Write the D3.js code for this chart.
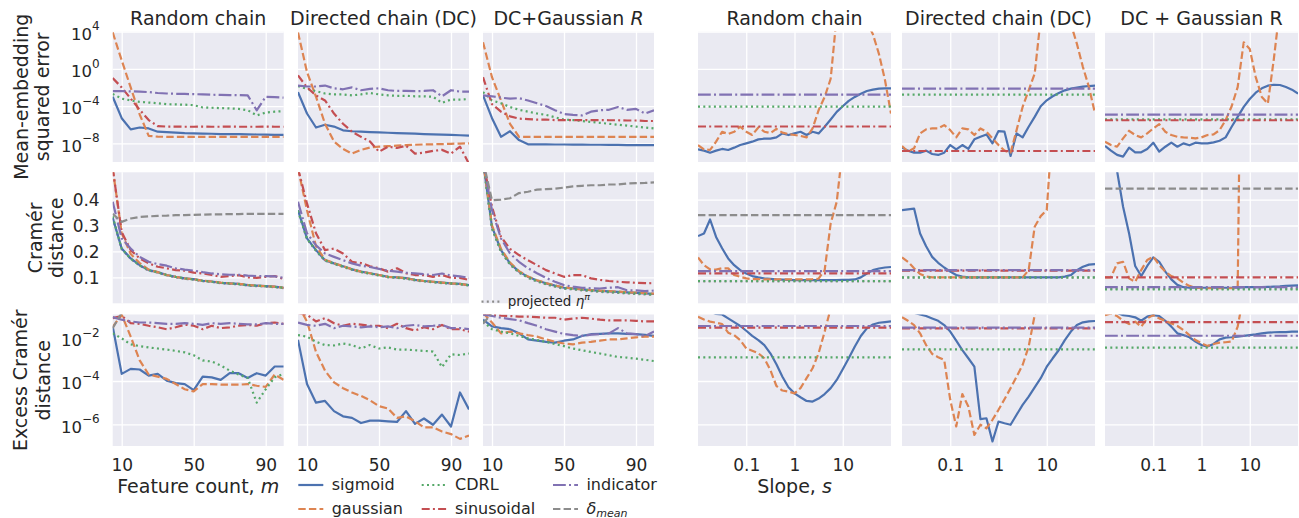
<!DOCTYPE html>
<meta charset="utf-8">
<script src="https://d3js.org/d3.v7.min.js"></script>
<style>
  body { margin: 0; background: #fff; }
  svg text { font-family: "DejaVu Sans", sans-serif; fill: #262626; }
</style>
<div id="chart"></div>
<script>
// x values: feature count m (left panels) and slope s (right panels)
var mCounts = [5, 10, 15, 20, 25, 30, 35, 40, 45, 50, 55, 60, 65, 70, 75, 80, 85, 90, 95, 100];
var slopes = [0.01, 0.0133, 0.0178, 0.0237, 0.0316, 0.0422, 0.0562, 0.075, 0.1, 0.133, 0.178,
  0.237, 0.316, 0.422, 0.562, 0.75, 1, 1.33, 1.78, 2.37, 3.16, 4.22, 5.62, 7.5, 10, 13.3,
  17.8, 23.7, 31.6, 42.2, 56.2, 75, 100];

// tick labels
var leftTicks = [10, 50, 90];
var rightTicks = [0.1, 1, 10];
var rightTickLabels = ["0.1", "1", "10"];
var rowTicks = [[1e4, 1, 1e-4, 1e-8], [0.1, 0.2, 0.3, 0.4], [1e-2, 1e-4, 1e-6]];
var rowTickLabels = [["4", "0", "\u22124", "\u22128"], ["0.1", "0.2", "0.3", "0.4"], ["\u22122", "\u22124", "\u22126"]];

// row 1: mean-embedding squared error (log10 of the value), vs m
var mseRcSigmoid = [-3.0, -5.3, -6.5, -6.3, -6.4, -6.75, -6.8, -6.85, -6.9, -6.92, -6.95, -6.97, -7.0, -7.0, -7.02, -7.04, -7.05, -7.07, -7.08, -7.1];
var mseRcGaussian = [3.9, 0.9, -2.0, -4.9, -7.2, -7.28, -7.3, -7.3, -7.3, -7.3, -7.3, -7.3, -7.3, -7.3, -7.3, -7.3, -7.3, -7.3, -7.3, -7.3];
var mseRcCdrl = [-2.7, -3.2, -3.4, -3.55, -3.62, -3.7, -3.8, -3.82, -3.85, -3.9, -4.15, -4.18, -4.22, -4.25, -4.3, -4.45, -5.0, -4.7, -4.6, -4.55];
var mseRcSinusoidal = [-1.0, -2.0, -3.2, -4.4, -5.5, -6.15, -6.2, -6.2, -6.22, -6.22, -6.2, -6.22, -6.22, -6.2, -6.22, -6.22, -6.22, -6.2, -6.22, -6.22];
var mseRcIndicator = [-2.4, -2.4, -2.42, -2.45, -2.5, -2.6, -2.65, -2.68, -2.7, -2.72, -2.75, -2.78, -2.8, -2.82, -2.83, -2.85, -4.45, -3.0, -3.05, -3.1];

var mseDcSigmoid = [-2.5, -4.8, -6.3, -6.0, -6.2, -6.6, -6.7, -6.75, -6.8, -6.83, -6.86, -6.9, -6.93, -6.96, -7.0, -7.03, -7.06, -7.1, -7.13, -7.17];
var mseDcGaussian = [3.9, -0.35, -3.0, -5.9, -7.8, -8.6, -9.1, -8.7, -8.45, -8.35, -8.3, -8.25, -8.2, -8.15, -8.12, -8.1, -8.08, -8.05, -8.02, -8.0];
var mseDcCdrl = [-1.85, -2.15, -2.4, -2.65, -2.75, -2.75, -2.85, -2.75, -2.6, -2.75, -2.85, -2.9, -2.9, -2.95, -2.95, -3.0, -3.65, -3.3, -3.3, -3.25];
var mseDcSinusoidal = [-0.7, -2.0, -2.85, -3.4, -4.8, -5.9, -6.75, -7.3, -7.8, -8.9, -8.35, -8.5, -8.25, -9.1, -9.0, -8.8, -8.7, -9.1, -8.35, -10.2];
var mseDcIndicator = [-1.8, -1.9, -1.9, -1.8, -2.1, -2.2, -2.0, -2.3, -2.15, -2.1, -2.3, -2.38, -2.38, -2.4, -2.38, -2.3, -2.95, -2.3, -2.45, -2.45];

var mseDcgSigmoid = [-2.85, -5.3, -7.3, -6.7, -7.65, -8.1, -8.1, -8.1, -8.12, -8.12, -8.14, -8.14, -8.15, -8.15, -8.16, -8.17, -8.18, -8.18, -8.19, -8.2];
var mseDcgGaussian = [2.85, -0.9, -3.4, -5.9, -7.3, -7.3, -7.3, -7.3, -7.3, -7.3, -7.3, -7.3, -7.3, -7.3, -7.3, -7.3, -7.3, -7.3, -7.3, -7.3];
var mseDcgCdrl = [-2.5, -3.4, -3.7, -4.1, -4.4, -4.6, -4.8, -4.95, -5.2, -5.45, -5.5, -5.6, -5.7, -5.8, -5.9, -6.0, -6.1, -6.2, -6.3, -6.4];
var mseDcgSinusoidal = [-0.9, -3.8, -4.6, -5.1, -5.35, -5.4, -5.45, -5.45, -5.5, -5.5, -5.5, -5.5, -5.5, -5.5, -5.52, -5.52, -5.55, -5.55, -5.6, -5.6];
var mseDcgIndicator = [-2.85, -2.95, -3.1, -3.2, -3.15, -3.4, -3.7, -4.0, -4.45, -4.85, -4.95, -5.0, -4.6, -4.45, -4.4, -4.1, -4.4, -4.3, -4.8, -4.45];

// row 2: Cramér distance, vs m
var cramerRcSigmoid = [0.33, 0.211, 0.173, 0.147, 0.128, 0.12, 0.109, 0.102, 0.096, 0.093, 0.087, 0.084, 0.079, 0.077, 0.075, 0.07, 0.068, 0.066, 0.064, 0.06];
var cramerRcGaussian = [0.52, 0.27, 0.19, 0.155, 0.13, 0.12, 0.109, 0.102, 0.096, 0.093, 0.087, 0.084, 0.08, 0.077, 0.075, 0.071, 0.068, 0.066, 0.064, 0.06];
var cramerRcCdrl = [0.335, 0.21, 0.172, 0.146, 0.128, 0.119, 0.109, 0.102, 0.096, 0.092, 0.087, 0.083, 0.079, 0.077, 0.074, 0.07, 0.068, 0.066, 0.063, 0.06];
var cramerRcSinusoidal = [0.52, 0.275, 0.205, 0.173, 0.154, 0.141, 0.135, 0.128, 0.126, 0.118, 0.115, 0.109, 0.102, 0.105, 0.108, 0.1, 0.098, 0.102, 0.105, 0.094];
var cramerRcIndicator = [0.391, 0.25, 0.211, 0.179, 0.16, 0.151, 0.145, 0.135, 0.13, 0.126, 0.12, 0.115, 0.112, 0.11, 0.11, 0.107, 0.105, 0.105, 0.104, 0.098];
var cramerRcDeltaMean = [0.345, 0.314, 0.327, 0.333, 0.335, 0.337, 0.338, 0.34, 0.34, 0.341, 0.342, 0.343, 0.343, 0.344, 0.344, 0.345, 0.345, 0.345, 0.345, 0.345];
var cramerRcProjected = [0.328, 0.209, 0.171, 0.145, 0.126, 0.118, 0.107, 0.1, 0.094, 0.091, 0.085, 0.082, 0.077, 0.075, 0.073, 0.068, 0.066, 0.064, 0.062, 0.058];

var cramerDcSigmoid = [0.359, 0.25, 0.205, 0.166, 0.154, 0.143, 0.131, 0.122, 0.116, 0.109, 0.102, 0.1, 0.097, 0.09, 0.086, 0.083, 0.08, 0.077, 0.075, 0.07];
var cramerDcGaussian = [0.52, 0.359, 0.22, 0.168, 0.155, 0.143, 0.131, 0.122, 0.116, 0.109, 0.102, 0.1, 0.097, 0.09, 0.086, 0.083, 0.08, 0.077, 0.075, 0.07];
var cramerDcCdrl = [0.357, 0.249, 0.204, 0.166, 0.153, 0.142, 0.131, 0.121, 0.115, 0.108, 0.102, 0.099, 0.096, 0.09, 0.086, 0.082, 0.079, 0.077, 0.074, 0.07];
var cramerDcSinusoidal = [0.52, 0.385, 0.27, 0.205, 0.211, 0.192, 0.16, 0.155, 0.143, 0.135, 0.122, 0.135, 0.116, 0.109, 0.109, 0.102, 0.109, 0.098, 0.098, 0.09];
var cramerDcIndicator = [0.391, 0.27, 0.224, 0.192, 0.179, 0.166, 0.154, 0.145, 0.14, 0.133, 0.126, 0.122, 0.118, 0.115, 0.112, 0.109, 0.115, 0.107, 0.104, 0.098];
var cramerDcProjected = [0.355, 0.247, 0.202, 0.164, 0.152, 0.14, 0.129, 0.12, 0.114, 0.107, 0.1, 0.098, 0.095, 0.088, 0.084, 0.081, 0.078, 0.075, 0.073, 0.068];

var cramerDcgSigmoid = [0.55, 0.295, 0.205, 0.154, 0.122, 0.102, 0.088, 0.077, 0.068, 0.06, 0.057, 0.054, 0.051, 0.048, 0.046, 0.044, 0.042, 0.04, 0.038, 0.036];
var cramerDcgGaussian = [0.55, 0.3, 0.21, 0.157, 0.124, 0.103, 0.089, 0.078, 0.069, 0.061, 0.057, 0.054, 0.051, 0.049, 0.047, 0.045, 0.043, 0.041, 0.039, 0.037];
var cramerDcgCdrl = [0.55, 0.29, 0.2, 0.151, 0.12, 0.1, 0.086, 0.075, 0.066, 0.058, 0.055, 0.052, 0.049, 0.046, 0.044, 0.042, 0.04, 0.038, 0.036, 0.034];
var cramerDcgSinusoidal = [0.55, 0.372, 0.256, 0.21, 0.186, 0.166, 0.147, 0.128, 0.115, 0.102, 0.109, 0.109, 0.096, 0.09, 0.086, 0.083, 0.081, 0.079, 0.078, 0.077];
var cramerDcgIndicator = [0.55, 0.359, 0.25, 0.192, 0.16, 0.135, 0.116, 0.098, 0.083, 0.07, 0.064, 0.06, 0.058, 0.057, 0.06, 0.062, 0.05, 0.05, 0.047, 0.049];
var cramerDcgDeltaMean = [0.55, 0.397, 0.4, 0.405, 0.425, 0.43, 0.438, 0.44, 0.442, 0.446, 0.451, 0.453, 0.455, 0.455, 0.458, 0.458, 0.462, 0.463, 0.464, 0.466];
var cramerDcgProjected = [0.55, 0.287, 0.198, 0.149, 0.118, 0.098, 0.084, 0.073, 0.064, 0.056, 0.053, 0.05, 0.047, 0.044, 0.042, 0.04, 0.038, 0.036, 0.034, 0.032];

// row 3: excess Cramér distance (log10 of the value), vs m
var excessRcSigmoid = [-1.48, -3.67, -3.44, -3.47, -3.75, -3.67, -3.98, -4.1, -4.14, -4.42, -3.8, -3.83, -3.95, -3.64, -3.64, -3.86, -3.64, -3.75, -3.33, -3.33];
var excessRcGaussian = [-1.5, -0.94, -1.95, -3.05, -3.7, -3.8, -3.9, -4.14, -4.38, -4.48, -4.14, -4.14, -4.17, -4.17, -4.17, -4.14, -4.22, -4.27, -3.7, -3.95];
var excessRcCdrl = [-1.8, -2.03, -2.31, -2.39, -2.45, -2.5, -2.55, -2.61, -2.68, -2.81, -3.05, -3.1, -3.28, -3.52, -3.7, -3.86, -5.0, -4.38, -3.83, -3.67];
var excessRcSinusoidal = [-1.1, -1.0, -1.33, -1.36, -1.45, -1.52, -1.61, -1.52, -1.4, -1.45, -1.61, -1.45, -1.56, -1.52, -1.45, -1.41, -1.45, -1.33, -1.3, -1.36];
var excessRcIndicator = [-1.05, -1.17, -1.25, -1.3, -1.3, -1.33, -1.36, -1.36, -1.33, -1.36, -1.41, -1.33, -1.36, -1.33, -1.36, -1.39, -1.39, -1.33, -1.36, -1.36];
var excessRcDeltaMean = [-1.56, -0.85, -0.7, -0.65, -0.62, -0.6, -0.6, -0.58, -0.58, -0.57, -0.57, -0.56, -0.56, -0.56, -0.55, -0.55, -0.55, -0.55, -0.55, -0.55];

var excessDcSigmoid = [-2.1, -4.14, -5.0, -4.92, -5.39, -5.63, -5.7, -5.94, -5.83, -5.83, -5.86, -5.89, -5.39, -5.98, -5.73, -6.02, -5.55, -6.1, -4.53, -5.31];
var excessDcGaussian = [-0.5, -1.25, -2.66, -3.52, -4.06, -4.33, -4.53, -4.69, -4.89, -5.16, -5.27, -5.7, -5.63, -5.86, -6.14, -6.14, -6.33, -6.45, -6.67, -6.52];
var excessDcCdrl = [-1.88, -1.95, -2.19, -2.34, -2.36, -2.27, -2.34, -2.5, -2.34, -2.5, -2.45, -2.55, -2.55, -2.58, -2.61, -2.64, -3.36, -2.77, -2.8, -2.73];
var excessDcSinusoidal = [-0.86, -0.94, -1.25, -1.1, -1.33, -1.45, -1.36, -1.4, -1.45, -1.45, -1.56, -1.36, -1.56, -1.67, -1.52, -1.61, -1.41, -1.61, -1.61, -1.72];
var excessDcIndicator = [-1.3, -1.41, -1.45, -1.36, -1.56, -1.45, -1.48, -1.52, -1.48, -1.52, -1.48, -1.56, -1.45, -1.41, -1.48, -1.45, -1.41, -1.56, -1.56, -1.61];

var excessDcgSigmoid = [-1.17, -1.48, -1.56, -1.61, -1.8, -2.08, -2.14, -2.19, -2.23, -2.14, -2.08, -1.92, -1.84, -1.82, -1.8, -1.8, -1.82, -1.84, -1.87, -1.92];
var excessDcgGaussian = [-0.86, -1.3, -1.8, -1.72, -1.8, -1.88, -1.95, -2.08, -2.19, -2.27, -2.31, -2.23, -2.19, -2.14, -2.08, -2.08, -2.03, -1.99, -1.95, -1.95];
var excessDcgCdrl = [-1.25, -1.61, -1.72, -1.8, -1.92, -2.03, -2.11, -2.19, -2.3, -2.39, -2.5, -2.58, -2.66, -2.73, -2.81, -2.89, -2.92, -2.97, -3.02, -3.08];
var excessDcgSinusoidal = [-0.86, -0.94, -0.98, -1.0, -1.03, -1.03, -1.05, -1.08, -1.08, -1.17, -1.12, -1.08, -1.12, -1.17, -1.2, -1.2, -1.2, -1.22, -1.25, -1.25];
var excessDcgIndicator = [-0.94, -1.0, -1.08, -1.14, -1.2, -1.33, -1.45, -1.61, -1.72, -1.83, -1.88, -1.92, -1.86, -1.84, -1.8, -1.56, -1.8, -1.84, -1.92, -1.72];
var excessDcgDeltaMean = [-1.36, -0.85, -0.7, -0.6, -0.55, -0.52, -0.5, -0.5, -0.48, -0.47, -0.46, -0.46, -0.45, -0.45, -0.45, -0.44, -0.44, -0.44, -0.44, -0.43];

// right panels, vs slope s. row 1 (log10 of the value)
var sMseRcSigmoid = [-8.64, -8.78, -9.0, -8.78, -8.6, -8.71, -8.46, -8.18, -8.0, -7.82, -7.57, -7.5, -7.5, -7.36, -6.93, -7.11, -6.93, -6.76, -7.11, -6.76, -6.93, -6.22, -5.44, -4.62, -4.02, -3.45, -3.02, -2.67, -2.38, -2.24, -2.13, -2.1, -2.1];
var sMseRcGaussian = [-8.18, -8.64, -8.71, -7.82, -6.76, -7.0, -6.76, -6.2, -6.75, -7.1, -6.3, -6.75, -6.9, -6.45, -6.85, -7.0, -7.1, -7.2, -7.36, -6.4, -4.44, -3.02, -1.07, 5.7, 7, 8, 8, 7, 5, 3.7, 1.6, -1.2, -4.8];
var sMseDcSigmoid = [-8.46, -8.78, -9.0, -9.0, -8.78, -9.14, -9.24, -9.0, -8.18, -8.64, -8.18, -8.6, -7.57, -7.29, -7.04, -8.0, -6.68, -6.75, -9.35, -6.93, -7.36, -6.22, -5.16, -4.02, -3.38, -2.95, -2.6, -2.31, -2.13, -2.03, -1.92, -1.85, -1.81];
var sMseDcGaussian = [-8.28, -8.89, -8.53, -6.93, -6.5, -6.4, -6.4, -6.04, -6.58, -7.36, -6.4, -6.5, -7.11, -6.4, -6.76, -7.47, -8.18, -8.78, -9.0, -6.58, -4.09, -2.31, -0.53, 5.4, 7, 8, 8, 7, 4.8, 2.67, 0.18, -1.96, -4.8];
var sMseDcgSigmoid = [-8.28, -8.78, -9.24, -9.42, -8.46, -8.96, -8.96, -8.6, -7.93, -8.89, -8.36, -7.93, -8.36, -8.0, -8.21, -7.93, -8.0, -8.0, -7.89, -7.72, -7.36, -6.22, -5.16, -4.09, -3.24, -2.56, -2.1, -1.81, -1.71, -1.74, -1.96, -2.24, -2.67];
var sMseDcgGaussian = [-7.82, -8.18, -8.36, -7.47, -6.65, -7.11, -7.36, -6.93, -6.4, -5.94, -6.76, -7.11, -7.29, -7.36, -7.4, -7.47, -7.36, -7.11, -7.04, -6.58, -5.51, -4.02, -1.96, 2.84, 2.13, -0.89, -3.02, -3.73, 1.07, 6.6, 8, 8, 8];
// flat baselines, one per right panel (random chain, DC, DC + Gaussian R)
var sMseIndicator = [-2.77, -2.13, -4.91];
var sMseCdrl = [-4.05, -2.77, -5.42];
var sMseSinusoidal = [-6.19, -8.82, -5.52];

// row 2
var sCramerRcSigmoid = [0.259, 0.269, 0.323, 0.256, 0.212, 0.173, 0.147, 0.128, 0.115, 0.105, 0.1, 0.096, 0.094, 0.092, 0.091, 0.09, 0.089, 0.089, 0.089, 0.089, 0.089, 0.089, 0.089, 0.089, 0.09, 0.09, 0.092, 0.1, 0.115, 0.128, 0.134, 0.138, 0.14];
var sCramerRcGaussian = [0.177, 0.147, 0.131, 0.13, 0.135, 0.135, 0.109, 0.102, 0.096, 0.093, 0.093, 0.092, 0.092, 0.092, 0.092, 0.092, 0.092, 0.092, 0.092, 0.093, 0.095, 0.128, 0.308, 0.391, 0.6, 1, 1, 1, 1, 1, 1, 1, 1];
var sCramerDcSigmoid = [0.359, 0.362, 0.365, 0.269, 0.22, 0.179, 0.156, 0.138, 0.122, 0.109, 0.103, 0.1, 0.1, 0.1, 0.1, 0.1, 0.1, 0.1, 0.1, 0.1, 0.1, 0.1, 0.1, 0.1, 0.1, 0.1, 0.1, 0.103, 0.109, 0.128, 0.141, 0.149, 0.151];
var sCramerDcGaussian = [0.177, 0.16, 0.135, 0.113, 0.103, 0.1, 0.1, 0.1, 0.1, 0.1, 0.1, 0.1, 0.1, 0.1, 0.1, 0.1, 0.1, 0.1, 0.1, 0.1, 0.1, 0.128, 0.295, 0.336, 0.359, 0.7, 1, 1, 1, 1, 1, 1, 1];
var sCramerDcgSigmoid = [0.6, 0.55, 0.51, 0.372, 0.269, 0.144, 0.105, 0.144, 0.177, 0.16, 0.122, 0.092, 0.071, 0.062, 0.06, 0.06, 0.06, 0.06, 0.06, 0.06, 0.06, 0.06, 0.06, 0.062, 0.062, 0.062, 0.062, 0.063, 0.064, 0.065, 0.067, 0.068, 0.069];
var sCramerDcgGaussian = [0.1, 0.1, 0.154, 0.16, 0.096, 0.083, 0.128, 0.167, 0.18, 0.147, 0.122, 0.105, 0.096, 0.079, 0.067, 0.06, 0.058, 0.058, 0.058, 0.058, 0.058, 0.058, 0.058, 2, 2, 2, 2, 2, 2, 2, 2, 2, 2];
var sCramerIndicator = [0.124, 0.128, 0.062];
var sCramerCdrl = [0.086, 0.1, 0.054];
var sCramerSinusoidal = [0.115, 0.126, 0.1];
var sCramerDeltaMean = [0.34, 0.6, 0.442];
var sCramerProjected = [0.084, 0.099, 0.056];

// row 3 (log10 of the value)
var sExcessRcSigmoid = [-0.5, -0.65, -0.8, -0.9, -0.93, -1.11, -1.28, -1.46, -1.68, -1.92, -2.11, -2.34, -2.72, -3.23, -3.8, -4.29, -4.57, -4.75, -4.92, -4.95, -4.81, -4.6, -4.33, -3.95, -3.46, -2.95, -2.41, -1.92, -1.57, -1.39, -1.31, -1.28, -1.25];
var sExcessRcGaussian = [-1.03, -1.16, -1.26, -1.31, -1.37, -1.77, -1.88, -2.11, -2.49, -2.6, -2.72, -2.95, -3.49, -4.23, -4.44, -4.49, -4.57, -4.33, -3.87, -3.41, -2.72, -1.72, -0.65, 0, 0, 0, 0, 0, 0, 0, 0, 0, 0];
var sExcessDcSigmoid = [-0.5, -0.7, -0.85, -0.93, -1.0, -1.11, -1.22, -1.42, -1.72, -2.14, -2.57, -2.95, -3.34, -5.76, -5.72, -6.79, -5.87, -5.95, -6.02, -5.56, -5.1, -4.72, -4.29, -3.87, -3.34, -2.95, -2.57, -2.11, -1.72, -1.42, -1.29, -1.25, -1.23];
var sExcessDcGaussian = [-1.06, -1.22, -1.42, -1.8, -2.34, -2.75, -2.9, -3.03, -4.87, -6.1, -4.6, -5.18, -6.49, -6.02, -6.18, -5.79, -5.33, -4.84, -4.33, -3.8, -3.26, -2.41, -0.96, 0, 0, 0, 0, 0, 0, 0, 0, 0, 0];
var sExcessDcgSigmoid = [-0.5, -0.7, -0.85, -0.96, -1.0, -1.06, -1.22, -1.03, -0.96, -1.0, -1.22, -1.49, -1.8, -1.88, -1.98, -2.18, -2.34, -2.41, -2.29, -2.08, -2.0, -1.98, -1.95, -1.92, -1.88, -1.85, -1.8, -1.77, -1.75, -1.74, -1.74, -1.72, -1.72];
var sExcessDcgGaussian = [-0.96, -0.88, -1.0, -1.22, -1.37, -1.26, -1.49, -1.11, -0.96, -1.11, -1.22, -1.34, -1.46, -1.65, -1.88, -2.11, -2.26, -2.38, -2.29, -2.23, -2.21, -2.18, -1.49, 0, 0, 0, 0, 0, 0, 0, 0, 0, 0];
var sExcessIndicator = [-1.46, -1.54, -1.91];
var sExcessCdrl = [-2.91, -2.54, -2.46];
var sExcessSinusoidal = [-1.54, -1.57, -1.28];

var colTitles = ["Random chain", "Directed chain (DC)", "DC+Gaussian ", "Random chain", "Directed chain (DC)", "DC + Gaussian R"];
var rowLabels = [["Mean-embedding", "squared error"], ["Cramér", "distance"], ["Excess Cramér", "distance"]];

// ---------------------------------------------------------------------
var styles = {
  projected:  { color: "#8c8c8c", dash: "2,3.3" },
  sigmoid:    { color: "#4c72b0", dash: null },
  gaussian:   { color: "#dd8452", dash: "7.4,3.2" },
  CDRL:       { color: "#55a868", dash: "2,3.3" },
  sinusoidal: { color: "#c44e52", dash: "8,3.2,2,3.2" },
  indicator:  { color: "#8172b3", dash: "12.8,3.2,2,3.2" },
  deltaMean:  { color: "#8c8c8c", dash: "7.4,3.2" }
};
var drawOrder = ["projected", "sigmoid", "gaussian", "CDRL", "sinusoidal", "indicator", "deltaMean"];

var panels = [
  { row: 0, col: 0, lines: { sigmoid: mseRcSigmoid, gaussian: mseRcGaussian, CDRL: mseRcCdrl, sinusoidal: mseRcSinusoidal, indicator: mseRcIndicator } },
  { row: 0, col: 1, lines: { sigmoid: mseDcSigmoid, gaussian: mseDcGaussian, CDRL: mseDcCdrl, sinusoidal: mseDcSinusoidal, indicator: mseDcIndicator } },
  { row: 0, col: 2, lines: { sigmoid: mseDcgSigmoid, gaussian: mseDcgGaussian, CDRL: mseDcgCdrl, sinusoidal: mseDcgSinusoidal, indicator: mseDcgIndicator } },
  { row: 1, col: 0, lines: { projected: cramerRcProjected, sigmoid: cramerRcSigmoid, gaussian: cramerRcGaussian, CDRL: cramerRcCdrl, sinusoidal: cramerRcSinusoidal, indicator: cramerRcIndicator, deltaMean: cramerRcDeltaMean } },
  { row: 1, col: 1, lines: { projected: cramerDcProjected, sigmoid: cramerDcSigmoid, gaussian: cramerDcGaussian, CDRL: cramerDcCdrl, sinusoidal: cramerDcSinusoidal, indicator: cramerDcIndicator } },
  { row: 1, col: 2, lines: { projected: cramerDcgProjected, sigmoid: cramerDcgSigmoid, gaussian: cramerDcgGaussian, CDRL: cramerDcgCdrl, sinusoidal: cramerDcgSinusoidal, indicator: cramerDcgIndicator, deltaMean: cramerDcgDeltaMean } },
  { row: 2, col: 0, lines: { sigmoid: excessRcSigmoid, gaussian: excessRcGaussian, CDRL: excessRcCdrl, sinusoidal: excessRcSinusoidal, indicator: excessRcIndicator, deltaMean: excessRcDeltaMean } },
  { row: 2, col: 1, lines: { sigmoid: excessDcSigmoid, gaussian: excessDcGaussian, CDRL: excessDcCdrl, sinusoidal: excessDcSinusoidal, indicator: excessDcIndicator } },
  { row: 2, col: 2, lines: { sigmoid: excessDcgSigmoid, gaussian: excessDcgGaussian, CDRL: excessDcgCdrl, sinusoidal: excessDcgSinusoidal, indicator: excessDcgIndicator, deltaMean: excessDcgDeltaMean } }
];
var rightSig = [[sMseRcSigmoid, sMseDcSigmoid, sMseDcgSigmoid], [sCramerRcSigmoid, sCramerDcSigmoid, sCramerDcgSigmoid], [sExcessRcSigmoid, sExcessDcSigmoid, sExcessDcgSigmoid]];
var rightGau = [[sMseRcGaussian, sMseDcGaussian, sMseDcgGaussian], [sCramerRcGaussian, sCramerDcGaussian, sCramerDcgGaussian], [sExcessRcGaussian, sExcessDcGaussian, sExcessDcgGaussian]];
var rightFlat = [
  { CDRL: sMseCdrl, sinusoidal: sMseSinusoidal, indicator: sMseIndicator },
  { projected: sCramerProjected, CDRL: sCramerCdrl, sinusoidal: sCramerSinusoidal, indicator: sCramerIndicator, deltaMean: sCramerDeltaMean },
  { CDRL: sExcessCdrl, sinusoidal: sExcessSinusoidal, indicator: sExcessIndicator }
];
for (var r = 0; r < 3; r++) {
  for (var c = 0; c < 3; c++) {
    var flat = {};
    Object.keys(rightFlat[r]).forEach(function (k) { flat[k] = rightFlat[r][k][c]; });
    panels.push({ row: r, col: c + 3, lines: { sigmoid: rightSig[r][c], gaussian: rightGau[r][c] }, flat: flat });
  }
}

// layout
var colLeft = [112.7, 298, 483, 698, 902, 1105];
var colWidth = [171, 171, 171, 193, 193, 193];
var rowTop = [31.5, 172.3, 314.5];
var rowBottom = [162, 303.3, 446];
var yScales = [
  d3.scaleLog().domain([1e-10, 1e4]).range([rowBottom[0], rowTop[0]]),
  d3.scaleLinear().domain([0, 0.505]).range([rowBottom[1], rowTop[1]]),
  d3.scaleLog().domain([1e-7, Math.pow(10, -0.93)]).range([rowBottom[2], rowTop[2]])
];

var svg = d3.select("#chart").append("svg").attr("width", 1299).attr("height", 518);
var defs = svg.append("defs");

function drawPanel(p, idx) {
  var x0 = colLeft[p.col], x1 = x0 + colWidth[p.col];
  var yTop = rowTop[p.row], yBot = rowBottom[p.row];
  var y = yScales[p.row];
  var isLeft = p.col < 3;
  var x = isLeft ? d3.scaleLinear().domain([5, 100]).range([x0, x1])
                 : d3.scaleLog().domain([0.01, 100]).range([x0, x1]);
  var xs = isLeft ? mCounts : slopes;
  var toVal = p.row === 1 ? function (v) { return v; } : function (v) { return Math.pow(10, v); };

  var g = svg.append("g");
  g.append("rect").attr("x", x0).attr("y", yTop).attr("width", x1 - x0).attr("height", yBot - yTop).attr("fill", "#eaeaf2");

  // grid
  g.append("g").attr("transform", "translate(0," + yBot + ")")
    .call(d3.axisBottom(x).tickValues(isLeft ? leftTicks : rightTicks).tickSize(-(yBot - yTop)).tickFormat(""))
    .call(function (s) { s.select(".domain").remove(); })
    .selectAll("line").attr("stroke", "#fff").attr("stroke-width", 1.3);
  g.append("g").attr("transform", "translate(" + x0 + ",0)")
    .call(d3.axisLeft(y).tickValues(rowTicks[p.row]).tickSize(-(x1 - x0)).tickFormat(""))
    .call(function (s) { s.select(".domain").remove(); })
    .selectAll("line").attr("stroke", "#fff").attr("stroke-width", 1.3);

  // lines
  defs.append("clipPath").attr("id", "clip" + idx).append("rect")
    .attr("x", x0).attr("y", yTop).attr("width", x1 - x0).attr("height", yBot - yTop);
  var lg = g.append("g").attr("clip-path", "url(#clip" + idx + ")");
  var line = d3.line().x(function (d, i) { return x(xs[i]); }).y(function (d) { return y(toVal(d)); });
  var flatLine = d3.line().x(function (d, i) { return x(x.domain()[i]); }).y(function (d) { return y(toVal(d)); });
  drawOrder.forEach(function (key) {
    var st = styles[key];
    var d = null;
    if (p.lines[key]) d = line(p.lines[key]);
    else if (p.flat && p.flat[key] !== undefined) d = flatLine([p.flat[key], p.flat[key]]);
    if (!d) return;
    lg.append("path").attr("d", d).attr("fill", "none")
      .attr("stroke", st.color).attr("stroke-width", 2.2)
      .attr("stroke-dasharray", st.dash).attr("stroke-linejoin", "round");
  });

  // x tick labels on the bottom row
  if (p.row === 2) {
    var ax = g.append("g").attr("transform", "translate(0," + yBot + ")")
      .call(d3.axisBottom(x).tickValues(isLeft ? leftTicks : rightTicks).tickSize(0).tickPadding(13)
        .tickFormat(function (d, i) { return isLeft ? String(d) : rightTickLabels[i]; }));
    ax.select(".domain").remove();
    ax.selectAll("text").attr("font-size", 17);
  }
  // y tick labels on the first column
  if (p.col === 0) {
    var ay = g.append("g").attr("transform", "translate(" + x0 + ",0)")
      .call(d3.axisLeft(y).tickValues(rowTicks[p.row]).tickSize(0).tickPadding(13)
        .tickFormat(function (d, i) { return p.row === 1 ? rowTickLabels[1][i] : ""; }));
    ay.select(".domain").remove();
    ay.selectAll("text").attr("font-size", 17).attr("dy", "0.36em");
    if (p.row !== 1) {
      ay.selectAll(".tick").each(function (d, i) {
        var t = d3.select(this).append("text").attr("x", -13).attr("y", 7.7).attr("text-anchor", "end");
        t.append("tspan").attr("font-size", 16.5).text("10");
        t.append("tspan").attr("font-size", 12).attr("dy", -9.3).text(rowTickLabels[p.row][i]);
      });
    }
  }

  if (p.row === 0) {
    var title = g.append("text").attr("x", (x0 + x1) / 2).attr("y", 24.5).attr("text-anchor", "middle")
      .attr("font-size", 19).text(colTitles[p.col]);
    if (p.col === 2) title.append("tspan").attr("font-style", "italic").text("R");
  }
}

panels.forEach(drawPanel);

// row labels
var rowLabelX = [[27.5, 48.5], [41.5, 63], [27, 49.5]];
rowLabels.forEach(function (lines, r) {
  var cy = (rowTop[r] + rowBottom[r]) / 2;
  lines.forEach(function (txt, k) {
    svg.append("text").attr("transform", "translate(" + rowLabelX[r][k] + "," + cy + ") rotate(-90)")
      .attr("text-anchor", "middle").attr("font-size", 19).text(txt);
  });
});

// x axis labels
var xl1 = svg.append("text").attr("x", colLeft[0] + colWidth[0] / 2).attr("y", 493).attr("text-anchor", "middle").attr("font-size", 19);
xl1.append("tspan").text("Feature count, ");
xl1.append("tspan").attr("font-style", "italic").text("m");
var xl2 = svg.append("text").attr("x", colLeft[3] + colWidth[3] / 2).attr("y", 493).attr("text-anchor", "middle").attr("font-size", 19);
xl2.append("tspan").text("Slope, ");
xl2.append("tspan").attr("font-style", "italic").text("s");

// legend
var legendItems = [
  { key: "sigmoid", col: 0, row: 0, label: "sigmoid" },
  { key: "gaussian", col: 0, row: 1, label: "gaussian" },
  { key: "CDRL", col: 1, row: 0, label: "CDRL" },
  { key: "sinusoidal", col: 1, row: 1, label: "sinusoidal" },
  { key: "indicator", col: 2, row: 0, label: "indicator" },
  { key: "deltaMean", col: 2, row: 1, label: null }
];
var legColX = [298.3, 421.7, 553];
var legRowY = [485, 509];
legendItems.forEach(function (it) {
  var lx = legColX[it.col], ly = legRowY[it.row], st = styles[it.key];
  svg.append("line").attr("x1", lx).attr("x2", lx + 25).attr("y1", ly).attr("y2", ly)
    .attr("stroke", st.color).attr("stroke-width", 2.2).attr("stroke-dasharray", st.dash);
  var t = svg.append("text").attr("x", lx + 33.4).attr("y", ly + 5).attr("font-size", 16);
  if (it.label) t.text(it.label);
  else {
    t.append("tspan").attr("font-style", "italic").text("δ");
    t.append("tspan").attr("font-style", "italic").attr("font-size", 11).attr("dy", 2.5).text("mean");
  }
});
svg.append("line").attr("x1", 481.5).attr("x2", 500).attr("y1", 301.7).attr("y2", 301.7)
  .attr("stroke", styles.projected.color).attr("stroke-width", 2.2).attr("stroke-dasharray", styles.projected.dash);
var pl = svg.append("text").attr("x", 507.7).attr("y", 306.3).attr("font-size", 13.5);
pl.append("tspan").text("projected ");
pl.append("tspan").attr("font-style", "italic").text("η");
pl.append("tspan").attr("font-style", "italic").attr("font-size", 9.5).attr("dy", -6).text("π");
</script>
